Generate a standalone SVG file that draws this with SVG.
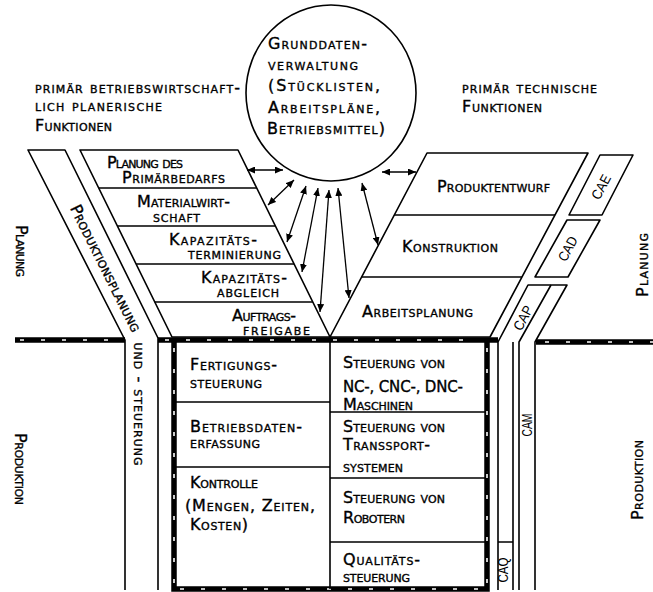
<svg xmlns="http://www.w3.org/2000/svg" width="653" height="592" viewBox="0 0 653 592">
<style>
.t{font-family:"DejaVu Sans",sans-serif;font-size:16px;font-variant:small-caps;fill:#000;stroke:#000;stroke-width:0.35}
.c{font-family:"Liberation Sans",sans-serif;font-size:14px;fill:#000}
.ln{fill:none;stroke:#000;stroke-width:1.6;stroke-linejoin:round}
.rail{fill:none;stroke:#000;stroke-width:5.5}
.raild{fill:none;stroke:#fff;stroke-width:1.6;stroke-dasharray:4 17}
.ar{fill:none;stroke:#000;stroke-width:1.3;marker-start:url(#ah);marker-end:url(#ah)}
</style>
<defs>
<marker id="ah" markerUnits="userSpaceOnUse" markerWidth="9" markerHeight="7" refX="8" refY="3.5" orient="auto-start-reverse"><path d="M0,0 L8,3.5 L0,7 z" fill="#000"/></marker>
</defs>
<rect width="653" height="592" fill="#fff"/>

<g id="labels">
<text class="t" x="35" y="93" textLength="205">primär betriebswirtschaft-</text>
<text class="t" x="35" y="111" textLength="127">lich planerische</text>
<text class="t" x="35" y="131" textLength="77">Funktionen</text>
<text class="t" x="462" y="93" textLength="135">primär technische</text>
<text class="t" x="462" y="112" textLength="80">Funktionen</text>
<text class="t" text-anchor="middle" transform="translate(16,251) rotate(90)" textLength="52">Planung</text>
<text class="t" text-anchor="middle" transform="translate(15,469) rotate(90)" textLength="72">Produktion</text>
<text class="t" text-anchor="middle" transform="translate(648,265) rotate(-90)" textLength="64">Planung</text>
<text class="t" text-anchor="middle" transform="translate(643,480) rotate(-90)" textLength="80">Produktion</text>
</g>

<g id="grunddaten">
<ellipse class="ln" cx="331" cy="93" rx="85" ry="88"/>
<text class="t" x="268" y="49" textLength="99">Grunddaten-</text>
<text class="t" x="268" y="70" textLength="90">verwaltung</text>
<text class="t" x="268" y="91" textLength="112">(Stücklisten,</text>
<text class="t" x="268" y="113" textLength="112">Arbeitspläne,</text>
<text class="t" x="267" y="134" textLength="118">Betriebsmittel)</text>
</g>

<g id="pps-band">
<path class="ln" d="M125,590 L125,340 L28,150 L65,150 L158,338 L158,590"/>
<text class="t" text-anchor="middle" transform="translate(101,270.5) rotate(63.4)" textLength="140">Produktionsplanung</text>
<text class="t" text-anchor="middle" transform="translate(134,404) rotate(90)" textLength="123">und - steuerung</text>
</g>

<g id="planung-bw">
<path class="ln" d="M80,150 L238,150 L330,337 L172,337 Z"/>
<path class="ln" d="M98.7,188 H256.7 M117.4,226 H275.4 M136.1,264 H294.1 M154.8,302 H312.8"/>
<g id="primaerbedarf">
<text class="t" x="107" y="168" textLength="76">Planung des</text>
<text class="t" x="122" y="183" textLength="103">Primärbedarfs</text>
</g>
<g id="materialwirtschaft">
<text class="t" x="137" y="207" textLength="93">Materialwirt-</text>
<text class="t" x="153" y="222" textLength="47">schaft</text>
</g>
<g id="kapazitaetsterminierung">
<text class="t" x="169" y="245" textLength="88">Kapazitäts-</text>
<text class="t" x="188" y="259" textLength="93">terminierung</text>
</g>
<g id="kapazitaetsabgleich">
<text class="t" x="201" y="283" textLength="86">Kapazitäts-</text>
<text class="t" x="217" y="297" textLength="62">abgleich</text>
</g>
<g id="auftragsfreigabe">
<text class="t" x="232" y="321" textLength="64">Auftrags-</text>
<text class="t" x="243" y="335" textLength="67">freigabe</text>
</g>
</g>

<g id="planung-tech">
<path class="ln" d="M427,153 L588,153 L490,337 L330,337 Z"/>
<path class="ln" d="M394.1,215 H555 M361.4,277 H521.9"/>
<text id="produktentwurf" class="t" x="437" y="192" textLength="113">Produktentwurf</text>
<text id="konstruktion" class="t" x="402" y="252" textLength="96">Konstruktion</text>
<text id="arbeitsplanung" class="t" x="362" y="317" textLength="111">Arbeitsplanung</text>
</g>

<g id="cae">
<path class="ln" d="M600,155 L633,155 L602,215 L569,215 Z"/>
<text class="c" text-anchor="middle" transform="translate(605.4,189.3) rotate(-62)" textLength="26" lengthAdjust="spacingAndGlyphs">CAE</text>
</g>
<g id="cad">
<path class="ln" d="M567,220 L600,220 L568,277 L535,277 Z"/>
<text class="c" text-anchor="middle" transform="translate(572,251) rotate(-62)" textLength="26" lengthAdjust="spacingAndGlyphs">CAD</text>
</g>
<g id="cap-cam-caq">
<path class="ln" d="M498,590 L498,342 L528,285 L567,285 L535,342 L535,590"/>
<path class="ln" d="M551,285 L519,342 L519,590"/>
<path class="ln" d="M513,342 L513,590 M498,542 H513"/>
<text class="c" text-anchor="middle" transform="translate(527.4,320.3) rotate(-62)" textLength="26" lengthAdjust="spacingAndGlyphs">CAP</text>
<text class="c" text-anchor="middle" transform="translate(532,425) rotate(-90)" textLength="23" lengthAdjust="spacingAndGlyphs">CAM</text>
<text class="c" text-anchor="middle" transform="translate(508,570) rotate(-90)" textLength="25" lengthAdjust="spacingAndGlyphs">CAQ</text>
</g>

<g id="boundary">
<path class="rail" d="M15,340 H125 M158,340 H498 M536,342 H653 M174,340 V589 H487 V340"/>
<path class="raild" d="M20,340 H122 M165,340 H480 M545,342 H653 M174,348 V586 M180,589 H484 M487,348 V586"/>
</g>

<g id="produktion">
<path class="ln" d="M330,340 V589 M176,402 H330 M176,467 H330 M330,412 H485 M330,478 H485 M330,542 H485"/>
<g id="fertigungssteuerung">
<text class="t" x="190" y="370" textLength="87">Fertigungs-</text>
<text class="t" x="190" y="388" textLength="72">steuerung</text>
</g>
<g id="betriebsdatenerfassung">
<text class="t" x="190" y="432" textLength="112">Betriebsdaten-</text>
<text class="t" x="190" y="448" textLength="70">erfassung</text>
</g>
<g id="kontrolle">
<text class="t" x="190" y="488" textLength="68">Kontrolle</text>
<text class="t" x="185" y="511" textLength="130">(Mengen, Zeiten,</text>
<text class="t" x="190" y="530" textLength="58">Kosten)</text>
</g>
<g id="nc-steuerung">
<text class="t" x="343" y="368" textLength="102">Steuerung von</text>
<text class="t" x="343" y="392" textLength="120" style="font-size:15px">NC-, CNC-, DNC-</text>
<text class="t" x="343" y="410" textLength="70">Maschinen</text>
</g>
<g id="transport-steuerung">
<text class="t" x="343" y="432" textLength="102">Steuerung von</text>
<text class="t" x="343" y="450" textLength="87">Transsport-</text>
<text class="t" x="343" y="472" textLength="60">systemen</text>
</g>
<g id="roboter-steuerung">
<text class="t" x="343" y="503" textLength="102">Steuerung von</text>
<text class="t" x="343" y="523" textLength="62">Robotern</text>
</g>
<g id="qualitaetssteuerung">
<text class="t" x="343" y="565" textLength="77">Qualitäts-</text>
<text class="t" x="343" y="582" textLength="67">steuerung</text>
</g>
</g>

<g id="connectors">
<line class="ar" x1="247" y1="170" x2="283" y2="170"/>
<line class="ar" x1="268" y1="205" x2="294" y2="180"/>
<line class="ar" x1="287" y1="242" x2="306" y2="186"/>
<line class="ar" x1="302" y1="272" x2="318" y2="188"/>
<line class="ar" x1="320" y1="312" x2="329" y2="190"/>
<line class="ar" x1="382" y1="172" x2="416" y2="172"/>
<line class="ar" x1="362" y1="183" x2="378" y2="245"/>
<line class="ar" x1="338" y1="188" x2="349" y2="298"/>
</g>
</svg>
